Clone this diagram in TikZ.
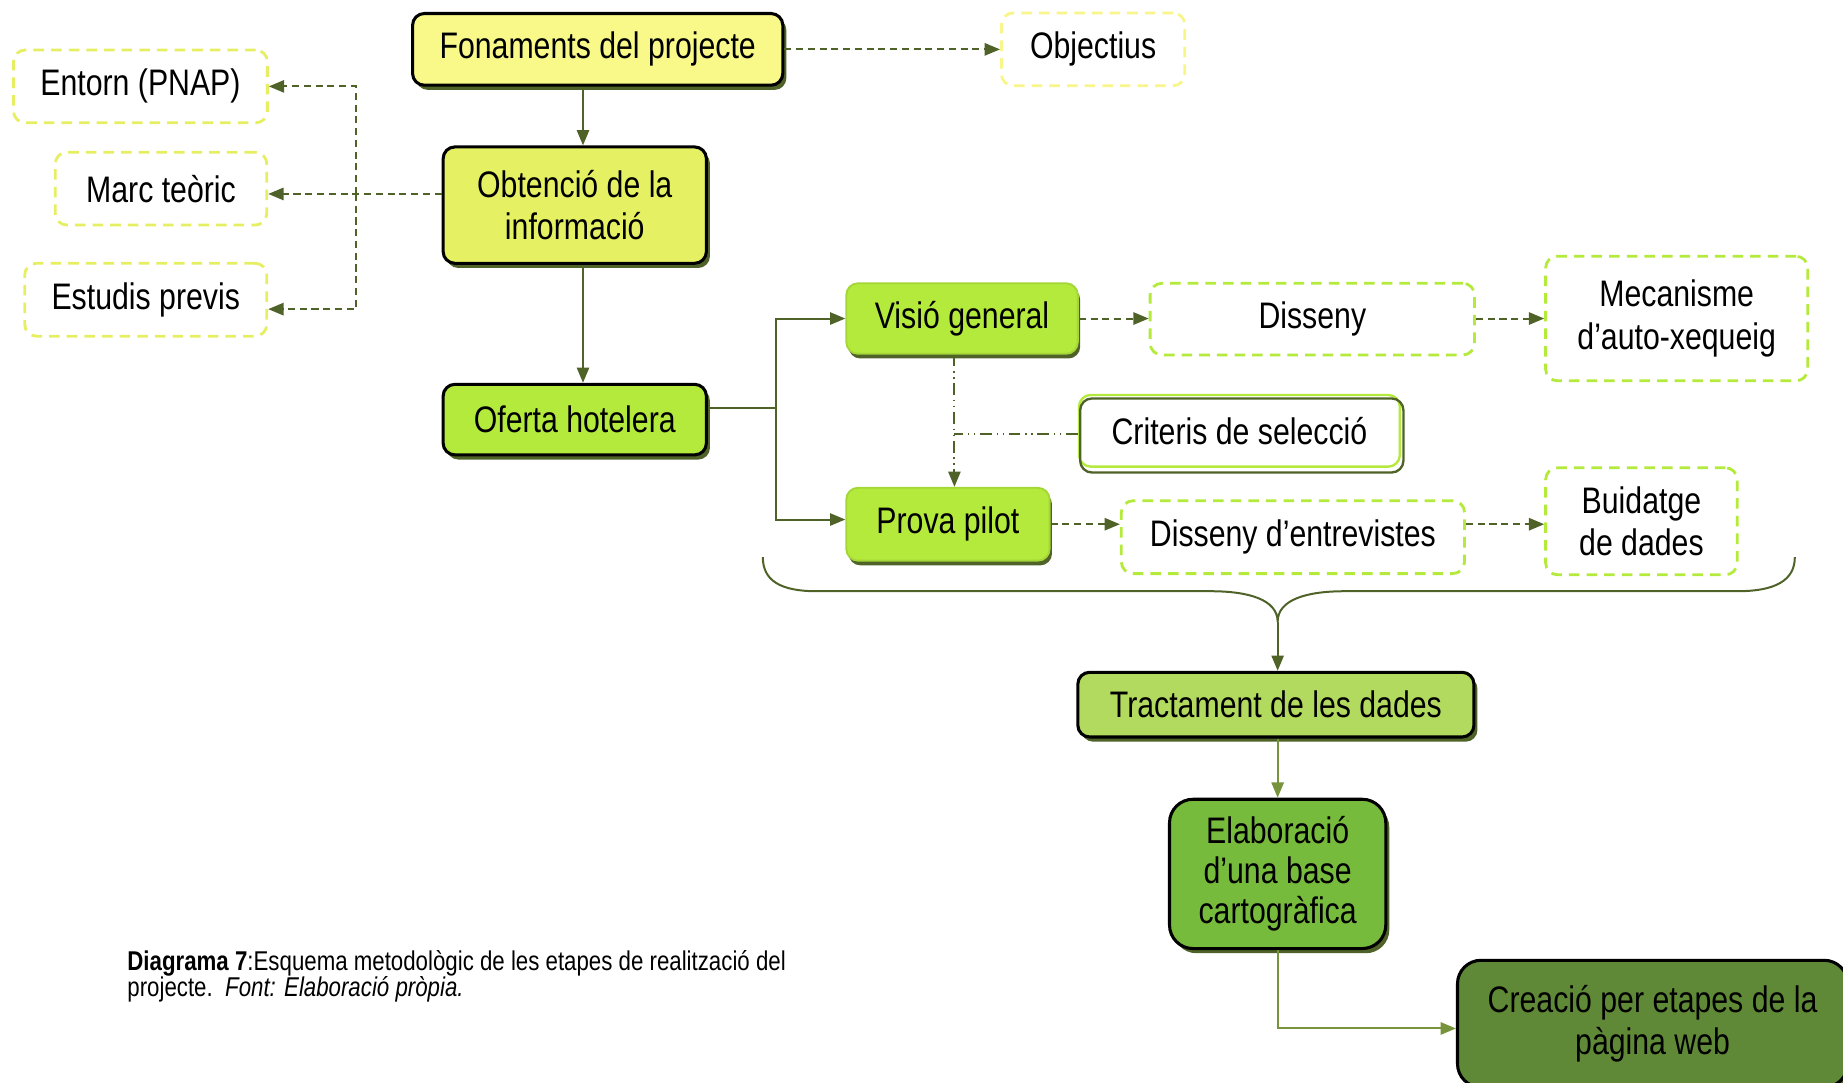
\documentclass[tikz,border=0pt]{standalone}
\usepackage{fontspec}
\setmainfont{Liberation Sans}[FakeStretch=0.82]
\usetikzlibrary{arrows.meta,shadows}
\definecolor{lnol}{HTML}{4F6228}
\definecolor{lnlt}{HTML}{77933C}
\definecolor{cfon}{HTML}{F9F98A}
\definecolor{cobt}{HTML}{E5F162}
\definecolor{clime}{HTML}{B4EA3B}
\definecolor{climeb}{HTML}{A3D636}
\definecolor{ctra}{HTML}{B2DA5E}
\definecolor{cela}{HTML}{77BB3D}
\definecolor{ccre}{HTML}{5F8936}
\definecolor{dyel}{HTML}{F8F58A}
\definecolor{dyg}{HTML}{E6EF62}
\begin{document}
\begin{tikzpicture}[x=0.5pt,y=-0.5pt,
  base/.style={rectangle, rounded corners=5pt, align=center, inner sep=0pt,
    font=\fontsize{15.7}{18}\selectfont, text=black},
  solidbox/.style={base, draw=black, line width=1.3pt,
    general shadow={fill=lnol, shadow xshift=1.5pt, shadow yshift=-2pt}},
  limebox/.style={base, draw=climeb, line width=0.8pt, fill=clime,
    general shadow={fill=lnol, shadow xshift=1pt, shadow yshift=-2pt}},
  dbox/.style={base, draw=#1, fill=white, line width=1.2pt, dash pattern=on 4.5pt off 3pt},
  conn/.style={draw=lnol, line width=0.85pt},
  dconn/.style={conn, dash pattern=on 3pt off 2pt},
  ddconn/.style={conn, dash pattern=on 5pt off 2pt on 0.6pt off 2pt on 0.6pt off 2pt},
  arr/.style={-{Triangle[length=6.5pt,width=5.2pt]}}
]
\useasboundingbox (0,0) rectangle (1568,921);

% main boxes
\node[solidbox, fill=cfon, minimum width=157.5pt, minimum height=30.5pt] (fon) at (508.5,42) {Fonaments del projecte};
\node[solidbox, fill=cobt, minimum width=112pt, minimum height=49.5pt] (obt) at (489,174.5) {Obtenció de la\\informació};
\node[solidbox, fill=clime, minimum width=112pt, minimum height=30pt] (ofe) at (489,357) {Oferta hotelera};
\node[limebox, minimum width=98.5pt, minimum height=30pt] (vis) at (818.5,271) {Visió general};
\node[limebox, minimum width=86.5pt, minimum height=31pt] (pro) at (806.5,446) {Prova pilot};
\node[base, draw=clime, line width=1pt, fill=white, minimum width=136.5pt, minimum height=30.5pt] (cri) at (1054.5,366.5) {Criteris de selecció};
\draw[lnol, line width=1pt, rounded corners=5pt] ([shift={(1pt,-2pt)}]cri.north west) rectangle ([shift={(1pt,-2pt)}]cri.south east);
\node[solidbox, fill=ctra, minimum width=168.5pt, minimum height=27.5pt] (tra) at (1085.5,599.5) {Tractament de les dades};
\node[solidbox, fill=cela, rounded corners=10pt, minimum width=92pt, minimum height=63.5pt, font=\fontsize{15.7}{17}\selectfont] (ela) at (1087,743.5) {Elaboració\\d’una base\\cartogràfica};
\node[solidbox, fill=ccre, rounded corners=10pt, minimum width=166pt, minimum height=54pt] (cre) at (1406,871) {Creació per etapes de la\\pàgina web};

% dashed boxes
\node[dbox=dyel, minimum width=78pt, minimum height=31pt] (obj) at (930,42) {Objectius};
\node[dbox=dyg, minimum width=108pt, minimum height=31pt] (ent) at (119.5,73.5) {Entorn (PNAP)};
\node[dbox=dyg, minimum width=90pt, minimum height=31pt] (mar) at (137,160.5) {Marc teòric};
\node[dbox=dyg, minimum width=103pt, minimum height=31pt] (est) at (124,255) {Estudis previs};
\node[dbox=clime, minimum width=138pt, minimum height=30.5pt] (dis) at (1116.5,271.5) {Disseny};
\node[dbox=clime, minimum width=111.5pt, minimum height=53pt] (mec) at (1426.5,271) {Mecanisme\\d’auto-xequeig};
\node[dbox=clime, minimum width=146pt, minimum height=31pt] (die) at (1100,457) {Disseny d’entrevistes};
\node[dbox=clime, minimum width=81.5pt, minimum height=45.5pt] (bui) at (1396.5,443.5) {Buidatge\\de dades};

% coordinates
\coordinate (cx) at (496,0);
\coordinate (lx) at (303,0);
\coordinate (bx) at (660,0);
\coordinate (vx) at (812,0);
\coordinate (oy) at (0,347);
\coordinate (py) at (0,442);
\coordinate (ey) at (0,446);
\coordinate (ly) at (0,165);
\coordinate (cy) at (0,369);
\coordinate (tip) at (1087,529);
\coordinate (ry) at (0,875);

% connectors
\draw[dconn, arr] (fon.east |- obj.west) -- (obj.west);
\draw[conn, arr] (fon.south -| cx) -- (obt.north -| cx);
\draw[conn, arr] (obt.south -| cx) -- (ofe.north -| cx);
\draw[dconn, arr] (obt.west |- ly) -- (mar.east |- ly);
\draw[dconn, arr] (lx |- ly) |- (ent.east);
\draw[dconn, arr] (lx |- ly) |- ([yshift=-4pt]est.east);
\draw[conn] (ofe.east |- oy) -- (bx |- oy);
\draw[conn, arr] (bx |- oy) |- (vis.west);
\draw[conn, arr] (bx |- oy) |- (pro.west |- py);
\draw[dconn, arr] (vis.east) -- (dis.west |- vis.east);
\draw[dconn, arr] (dis.east |- vis.east) -- (mec.west |- vis.east);
\draw[dconn, arr] (pro.east |- ey) -- (die.west |- ey);
\draw[dconn, arr] (die.east |- ey) -- (bui.west |- ey);
\draw[ddconn, arr] (vis.south -| vx) -- (pro.north -| vx);
\draw[ddconn] (cri.west |- cy) -- (vx |- cy);

% brace
\draw[conn] (649,474) .. controls (649,494) and (664,503) .. (695,503) -- (1030,503)
  .. controls (1062,503) and (1087,510) .. (tip)
  .. controls (1087,510) and (1112,503) .. (1144,503) -- (1478,503)
  .. controls (1510,503) and (1527,494) .. (1527,474);
\draw[conn, arr] (tip) -- (tra.north -| tip);
\draw[conn, draw=lnlt, arr] (tra.south -| ela.north) -- (ela.north);
\draw[conn, draw=lnlt, arr] (ela.south) |- (cre.west |- ry);

% caption
\node[anchor=north west, align=left, inner sep=0pt, font=\fontsize{11.55}{11}\selectfont] (cap) at (108,808)
  {\textbf{Diagrama 7}:Esquema metodològic de les etapes de realització del\\projecte.\ \ \textit{Font: Elaboració pròpia.}};
\end{tikzpicture}
\end{document}
